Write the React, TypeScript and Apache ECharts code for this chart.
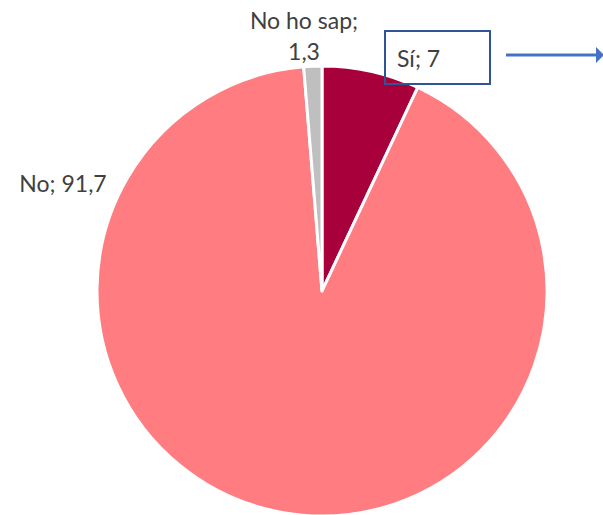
import React, { useEffect, useRef } from "react";
import * as echarts from "echarts";

const categories = ["Sí", "No", "No ho sap"];
const values = [7, 91.7, 1.3];
const colors = ["#A8003B", "#FF7C80", "#BFBFBF"];

const fmt = (v: number) => String(v).replace(".", ",");

export default function App() {
  const ref = useRef<HTMLDivElement>(null);
  useEffect(() => {
    if (!ref.current) return;
    const chart = echarts.init(ref.current, null, { renderer: "svg" });
    const font = "Lato, 'Open Sans', sans-serif";
    const labelPos = [
      { x: 385, y: 57.5, align: "left", verticalAlign: "middle" },
      { x: 63, y: 183, align: "center", verticalAlign: "middle" },
      { x: 304, y: 35.5, align: "center", verticalAlign: "middle" },
    ];
    chart.setOption({
      animation: false,
      backgroundColor: "#ffffff",
      series: [
        {
          type: "pie",
          center: [322, 291],
          radius: 225,
          startAngle: 90,
          clockwise: true,
          data: categories.map((c, i) => ({
            name: c,
            value: values[i],
            itemStyle: { color: colors[i] },
            label:
              i === 0
                ? {
                    borderColor: "#2F5597",
                    borderWidth: 2,
                    width: 93,
                    lineHeight: 53,
                    padding: [0, 0, 0, 12],
                  }
                : i === 2
                ? { lineHeight: 31 }
                : {},
          })),
          itemStyle: { borderColor: "#ffffff", borderWidth: 3 },
          label: {
            show: true,
            position: "outside",
            formatter: (p: any) =>
              p.dataIndex === 2 ? `${p.name};\n${fmt(p.value)}` : `${p.name}; ${fmt(p.value)}`,
            color: "#404040",
            fontSize: 23,
            fontFamily: font,
          },
          labelLine: { show: false },
          labelLayout: (params: any) => labelPos[params.dataIndex],
          emphasis: { disabled: true },
        },
      ],
      graphic: [
        {
          type: "line",
          shape: { x1: 506, y1: 55, x2: 597, y2: 55 },
          style: { stroke: "#4472C4", lineWidth: 3 },
        },
        {
          type: "polygon",
          shape: { points: [[596, 47], [604, 55], [596, 63]] },
          style: { fill: "#4472C4" },
        },
      ],
    });
    return () => chart.dispose();
  }, []);
  return (
    <div
      ref={ref}
      style={{ position: "fixed", left: 0, top: 0, width: 603, height: 515 }}
    />
  );
}
